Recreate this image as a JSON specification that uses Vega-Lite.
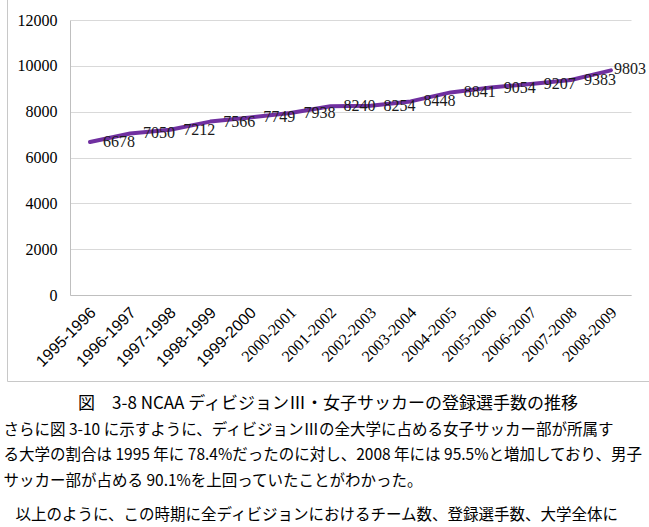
{
  "$schema": "https://vega.github.io/schema/vega-lite/v6.json",
  "padding": {"left": 3, "top": -2, "right": 0, "bottom": 0},
  "background": "white",
  "title": {
    "text": "　以上のように、この時期に全ディビジョンにおけるチーム数、登録選手数、大学全体に",
    "orient": "bottom",
    "anchor": "start",
    "frame": "bounds",
    "font": "Noto Sans CJK JP",
    "fontSize": 15.5,
    "fontWeight": "normal",
    "color": "#000000",
    "offset": 19,
    "dx": 12
  },
  "vconcat": [
    {
      "title": {
        "text": [
          "さらに図 3-10 に示すように、ディビジョンⅢの全大学に占める女子サッカー部が所属す",
          "る大学の割合は 1995 年に 78.4%だったのに対し、2008 年には 95.5%と増加しており、男子",
          "サッカー部が占める 90.1%を上回っていたことがわかった。"
        ],
        "orient": "bottom",
        "anchor": "start",
        "frame": "bounds",
        "font": "Noto Sans CJK JP",
        "fontSize": 15.5,
        "fontWeight": "normal",
        "color": "#000000",
        "lineHeight": 25.5,
        "offset": 10,
        "dx": -3
      },
      "vconcat": [
        {
          "width": 642,
          "height": 382,
          "view": {"stroke": "#c8c8c8", "strokeWidth": 1},
          "title": {
            "text": "図　3-8 NCAA ディビジョンⅢ・女子サッカーの登録選手数の推移",
            "orient": "bottom",
            "anchor": "middle",
            "font": "Noto Sans CJK JP",
            "fontSize": 17,
            "fontWeight": "normal",
            "color": "#000000",
            "offset": 15
          },
          "data": {
            "values": [
              {"season": "1995-1996", "players": 6678},
              {"season": "1996-1997", "players": 7050},
              {"season": "1997-1998", "players": 7212},
              {"season": "1998-1999", "players": 7566},
              {"season": "1999-2000", "players": 7749},
              {"season": "2000-2001", "players": 7938},
              {"season": "2001-2002", "players": 8240},
              {"season": "2002-2003", "players": 8254},
              {"season": "2003-2004", "players": 8448},
              {"season": "2004-2005", "players": 8841},
              {"season": "2005-2006", "players": 9054},
              {"season": "2006-2007", "players": 9207},
              {"season": "2007-2008", "players": 9383},
              {"season": "2008-2009", "players": 9803}
            ]
          },
          "encoding": {
            "x": {
              "field": "season",
              "type": "ordinal",
              "sort": null,
              "scale": {"type": "point", "range": [63, 624], "padding": 0.5},
              "axis": {
                "title": null,
                "offset": -86,
                "labelAngle": -45,
                "labelFont": {"condition": {"test": "datum.value < '2000'", "value": "Liberation Sans"}, "value": "Liberation Serif"},
                "labelFontSize": 16,
                "labelColor": "#000000",
                "labelPadding": 9,
                "labelOffset": -3,
                "labelOverlap": false,
                "ticks": false,
                "grid": false,
                "domainColor": "#bfbfbf",
                "domainWidth": 1
              }
            },
            "y": {
              "field": "players",
              "type": "quantitative",
              "scale": {"domain": [0, 12000], "range": [296, 21], "nice": false},
              "axis": {
                "title": null,
                "offset": -63,
                "values": [0, 2000, 4000, 6000, 8000, 10000, 12000],
                "format": "d",
                "labelFont": "Liberation Serif",
                "labelFontSize": 16,
                "labelColor": "#000000",
                "labelPadding": 13,
                "ticks": false,
                "grid": true,
                "gridColor": "#d9d9d9",
                "gridWidth": 1,
                "domainColor": "#bfbfbf",
                "domainWidth": 1
              }
            }
          },
          "layer": [
            {
              "mark": {"type": "line", "color": "#7030a0", "strokeWidth": 4, "strokeCap": "round", "strokeJoin": "round"}
            },
            {
              "transform": [{"filter": "datum.season !== '2008-2009'"}],
              "mark": {"type": "text", "align": "left", "baseline": "middle", "dx": 13, "font": "Liberation Serif", "fontSize": 16, "color": "#1a1a1a"},
              "encoding": {"text": {"field": "players", "type": "quantitative", "format": "d"}}
            },
            {
              "transform": [{"filter": "datum.season === '2008-2009'"}],
              "mark": {"type": "text", "align": "left", "baseline": "middle", "dx": 3, "dy": -1, "font": "Liberation Serif", "fontSize": 16, "color": "#1a1a1a"},
              "encoding": {"text": {"field": "players", "type": "quantitative", "format": "d"}}
            }
          ]
        }
      ]
    }
  ]
}
